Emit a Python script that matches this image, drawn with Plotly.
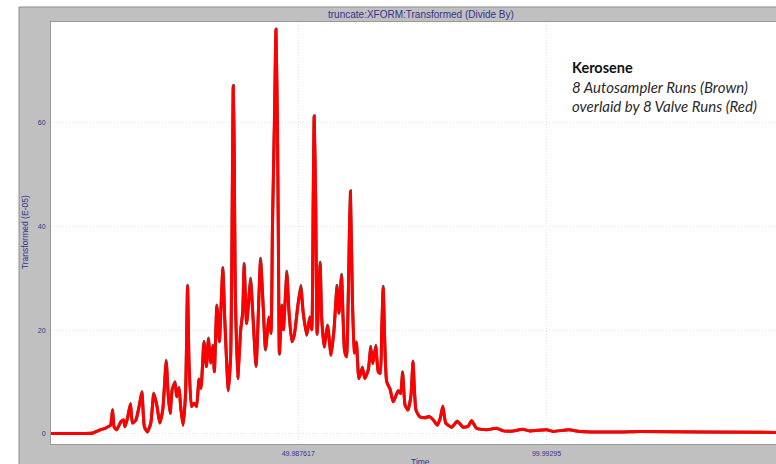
import plotly.graph_objects as go

# Chromatogram, Kerosene: retention time vs transformed detector signal (x1e-5)
time_min = [
    0.2, 7.0, 8.7, 10.1, 11.1, 11.7, 12.2, 12.6, 12.9, 13.4,
    14.3, 14.8, 15.1, 15.6, 16.2, 16.6, 17.3, 18.0, 18.5, 19.0,
    19.6, 20.3, 20.9, 21.5, 22.1, 22.7, 23.4, 23.8, 24.2, 24.6,
    25.2, 25.5, 26.0, 26.3, 26.8, 27.3, 27.7, 28.0, 28.5, 29.0,
    29.5, 30.0, 30.4, 31.0, 31.5, 31.9, 32.4, 32.8, 33.1, 33.6,
    34.1, 34.8, 35.2, 35.9, 36.4, 36.7, 36.9, 37.1, 37.3, 37.8,
    38.4, 38.8, 39.1, 39.6, 40.4, 40.8, 41.5, 42.4, 42.9, 43.4,
    44.1, 44.5, 44.8, 45.2, 45.5, 45.8, 46.0, 46.2, 46.7, 47.0,
    47.7, 48.1, 48.7, 49.2, 49.9, 50.5, 51.0, 51.7, 52.3, 52.7,
    53.0, 53.2, 53.5, 53.8, 54.4, 54.7, 55.2, 55.9, 56.6, 57.2,
    57.8, 58.2, 58.7, 59.3, 59.7, 60.1, 60.3, 60.5, 60.9, 61.3,
    61.7, 62.2, 62.9, 63.4, 64.1, 64.6, 65.0, 65.6, 66.1, 66.5,
    66.8, 67.1, 67.4, 67.8, 68.5, 69.1, 70.1, 70.6, 71.0, 71.5,
    72.1, 72.7, 73.1, 73.7, 74.5, 75.5, 76.4, 77.2, 78.0, 78.6,
    79.1, 79.7, 80.9, 82.0, 83.2, 84.2, 84.9, 85.9, 87.9, 89.9,
    91.3, 93.3, 95.2, 96.6, 100.0, 101.3, 104.5, 106.7, 114.8, 118.8,
    130.9, 146.2,
]

# 8 valve injection runs (red)
valve_runs = [
    0.1, 0.1, 0.2, 0.8, 1.1, 1.4, 1.7, 4.6, 1.4, 0.8,
    2.4, 2.7, 1.4, 3.0, 5.8, 2.1, 2.7, 5.6, 8.0, 1.4,
    0.4, 2.1, 7.7, 5.6, 2.1, 4.6, 13.9, 7.5, 4.0, 8.5,
    9.8, 7.2, 8.8, 5.3, 1.7, 7.8, 28.4, 13.6, 5.3, 5.9,
    5.3, 10.4, 8.8, 17.6, 13.0, 18.1, 13.7, 16.8, 12.0, 24.6,
    17.8, 31.6, 22.0, 8.5, 15.6, 45.1, 67.0, 54.8, 28.4, 10.7,
    20.1, 23.3, 32.3, 21.3, 29.4, 23.9, 13.3, 33.2, 25.2, 16.5,
    22.3, 19.4, 40.0, 60.6, 77.9, 59.3, 35.5, 15.6, 24.6, 20.1,
    30.7, 23.9, 17.8, 19.1, 24.6, 28.1, 23.3, 19.1, 22.3, 20.1,
    45.1, 61.2, 45.1, 19.4, 32.6, 22.6, 16.8, 20.7, 15.2, 20.1,
    28.1, 23.3, 30.3, 16.2, 14.9, 28.4, 39.3, 46.7, 25.8, 15.6,
    17.5, 10.7, 12.7, 10.7, 12.3, 16.5, 13.6, 16.8, 12.0, 11.7,
    20.1, 28.1, 18.1, 10.1, 8.5, 6.2, 8.2, 7.8, 11.7, 5.6,
    4.6, 7.5, 13.9, 4.6, 3.3, 3.1, 3.3, 2.7, 1.7, 3.1,
    5.3, 2.1, 1.3, 2.4, 1.3, 1.5, 2.5, 1.1, 0.8, 1.1,
    0.6, 0.6, 0.9, 0.6, 0.8, 0.5, 0.8, 0.5, 0.4, 0.5,
    0.4, 0.3,
]

# 8 autosampler runs (brown)
autosampler_runs = [
    0.1, 0.1, 0.2, 0.8, 1.1, 1.4, 1.7, 4.7, 1.4, 0.8,
    2.4, 2.7, 1.4, 3.0, 5.9, 2.1, 2.7, 5.6, 8.2, 1.4,
    0.4, 2.1, 7.9, 5.6, 2.1, 4.6, 14.2, 7.5, 4.0, 8.6,
    10.1, 7.2, 9.0, 5.3, 1.7, 7.8, 28.7, 13.6, 5.3, 6.0,
    5.3, 10.6, 8.8, 17.9, 13.0, 18.5, 13.7, 17.1, 12.0, 24.9,
    17.8, 32.1, 22.0, 8.3, 15.6, 45.1, 67.2, 54.8, 28.4, 10.7,
    20.1, 23.5, 32.9, 21.3, 30.1, 23.9, 13.0, 33.9, 25.2, 16.2,
    22.6, 19.4, 40.0, 60.6, 78.1, 59.3, 35.5, 15.4, 24.9, 20.1,
    31.4, 23.9, 17.8, 19.1, 24.8, 28.7, 23.3, 19.0, 22.6, 20.1,
    45.1, 61.4, 45.1, 19.2, 33.1, 22.6, 16.8, 21.0, 15.2, 20.3,
    28.7, 23.3, 30.8, 16.2, 14.9, 28.4, 39.3, 46.9, 25.8, 15.6,
    17.8, 10.7, 12.9, 10.7, 12.5, 16.9, 13.6, 17.1, 12.0, 11.7,
    20.1, 28.5, 18.1, 10.1, 8.7, 6.2, 8.4, 7.8, 12.0, 5.6,
    4.6, 7.5, 14.1, 4.6, 3.3, 3.2, 3.4, 2.7, 1.7, 3.1,
    5.4, 2.1, 1.3, 2.5, 1.3, 1.5, 2.6, 1.1, 0.8, 1.1,
    0.6, 0.6, 0.9, 0.6, 0.8, 0.5, 0.8, 0.5, 0.4, 0.5,
    0.4, 0.3,
]

x_tick_values = [49.987617, 99.99295]
x_tick_labels = ["49.987617", "99.99295"]
y_tick_values = [0, 20, 40, 60]

chart_title = "truncate:XFORM:Transformed (Divide By)"
y_title = "Transformed (E-05)"
x_title = "Time"
note_lines = ["Kerosene", "8 Autosampler Runs (Brown)", "overlaid by 8 Valve Runs (Red)"]

AXIS_BLUE = "#33338f"
FRAME_GRAY = "#c0c0c0"

fig = go.Figure()
fig.add_trace(go.Scatter(
    x=time_min, y=autosampler_runs, mode="lines",
    line=dict(color="#6b4640", width=3, shape="spline", smoothing=0.5),
    name="Autosampler", hoverinfo="skip",
))
fig.add_trace(go.Scatter(
    x=time_min, y=valve_runs, mode="lines",
    line=dict(color="#ff0000", width=3, shape="spline", smoothing=0.5),
    name="Valve", hoverinfo="skip",
))

axis_font = dict(family="Liberation Sans, Arial, sans-serif", size=7, color=AXIS_BLUE)
grid_style = dict(showgrid=True, gridcolor="#e2e2e2", griddash="1px,2px", gridwidth=1)

fig.update_layout(
    width=776, height=464,
    margin=dict(l=51, r=0, t=22, b=20),
    paper_bgcolor=FRAME_GRAY,
    plot_bgcolor="white",
    showlegend=False,
    xaxis=dict(
        range=[0.2, 146.2], tickvals=x_tick_values, ticktext=x_tick_labels,
        tickfont=axis_font, zeroline=False, showline=True, linecolor="#9a9a9a",
        mirror=True, ticks="", ticklabelstandoff=3, **grid_style,
    ),
    yaxis=dict(
        range=[-1.93, 79.46], tickvals=y_tick_values,
        tickfont=axis_font, zeroline=False, showline=True, linecolor="#9a9a9a",
        mirror=True, ticks="", ticklabelstandoff=3, **grid_style,
    ),
)

# White strips outside the chart frame, plus the frame's dark outer edge
fig.add_shape(type="rect", xref="paper", yref="paper", x0=-0.0704, x1=-0.0441,
              y0=-0.05, y1=1.06, fillcolor="white", line_width=0, layer="above")
fig.add_shape(type="rect", xref="paper", yref="paper", x0=-0.0704, x1=1.01,
              y0=1.0355, y1=1.06, fillcolor="white", line_width=0, layer="above")
fig.add_shape(type="line", xref="paper", yref="paper", x0=-0.0441, x1=-0.0441,
              y0=-0.05, y1=1.0355, line=dict(color="#8c8c8c", width=1), layer="above")
fig.add_shape(type="line", xref="paper", yref="paper", x0=-0.0441, x1=1.01,
              y0=1.0355, y1=1.0355, line=dict(color="#8c8c8c", width=1), layer="above")

fig.add_annotation(text=chart_title, xref="paper", yref="paper", x=0.511, y=1.0166,
                   xanchor="center", yanchor="middle", showarrow=False,
                   font=dict(family="Liberation Sans, Arial, sans-serif", size=10, color=AXIS_BLUE))
fig.add_annotation(text=y_title, xref="paper", yref="paper", x=-0.0359, y=0.502,
                   xanchor="center", yanchor="middle", showarrow=False, textangle=-90,
                   font=dict(family="Liberation Sans, Arial, sans-serif", size=8.5, color=AXIS_BLUE))
fig.add_annotation(text=x_title, xref="paper", yref="paper", x=0.509, y=-0.025,
                   xanchor="center", yanchor="top", showarrow=False,
                   font=dict(family="Liberation Sans, Arial, sans-serif", size=8.5, color=AXIS_BLUE))

note_font = "Lato, Open Sans, sans-serif"
fig.add_annotation(text="<b>" + note_lines[0] + "</b>", xref="paper", yref="paper",
                   x=0.716, y=0.8917, xanchor="left", yanchor="middle", showarrow=False,
                   font=dict(family=note_font, size=14.5, color="#111111"))
for text, ypos in zip(note_lines[1:], [0.8455, 0.8015]):
    fig.add_annotation(text="<i>" + text + "</i>", xref="paper", yref="paper",
                       x=0.716, y=ypos, xanchor="left", yanchor="middle", showarrow=False,
                       font=dict(family=note_font, size=15, color="#2a2a2a"))

fig.write_html("out.html")
